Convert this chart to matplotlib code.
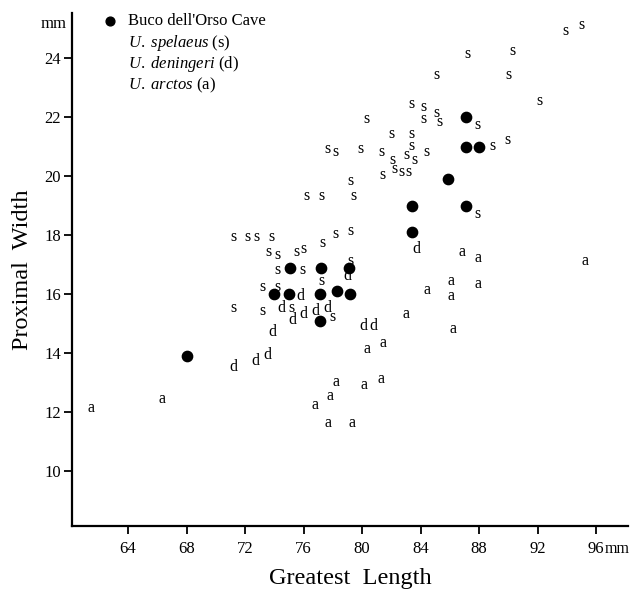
import matplotlib
matplotlib.use("Agg")
import matplotlib.pyplot as plt

plt.rcParams['font.family'] = ['Liberation Serif', 'DejaVu Serif']
plt.rcParams['mathtext.fontset'] = 'custom'
plt.rcParams['mathtext.rm'] = 'Liberation Serif'
plt.rcParams['mathtext.it'] = 'Liberation Serif:italic'

# Buco dell'Orso Cave (black dots)
cave_x = [68.0, 74.0, 75.1, 75.0, 77.2, 77.1, 77.1, 78.3, 79.2, 79.1,
          83.4, 83.4, 85.9, 87.1, 87.1, 88.0, 87.1]
cave_y = [13.9, 16.0, 16.9, 16.0, 16.9, 16.0, 15.1, 16.1, 16.0, 16.9,
          18.1, 19.0, 19.9, 22.0, 21.0, 21.0, 19.0]

# U. spelaeus (s)
spel_x = [93.9, 95.0, 87.2, 90.3, 85.1, 90.0, 92.1, 83.4, 84.2, 84.2,
          85.1, 85.3, 80.3, 87.9, 82.0, 83.4, 77.6, 78.2, 79.9, 81.3,
          83.4, 83.0, 83.6, 84.4, 82.1, 82.2, 82.7, 83.2, 81.4, 79.2,
          88.9, 89.9, 76.2, 77.2, 79.4, 87.9, 79.2, 78.2, 77.3, 76.0,
          75.5, 79.2, 75.9, 77.2, 78.0, 71.2, 72.2, 72.8, 73.8, 73.6,
          74.2, 74.2, 73.2, 74.2, 71.2, 73.2, 75.2]
spel_y = [25.0, 25.2, 24.2, 24.3, 23.5, 23.5, 22.6, 22.5, 22.4, 22.0,
          22.2, 21.9, 22.0, 21.8, 21.5, 21.5, 21.0, 20.9, 21.0, 20.9,
          21.1, 20.8, 20.6, 20.9, 20.6, 20.3, 20.2, 20.2, 20.1, 19.9,
          21.1, 21.3, 19.4, 19.4, 19.4, 18.8, 18.2, 18.1, 17.8, 17.6,
          17.5, 17.2, 16.9, 16.5, 15.3, 18.0, 18.0, 18.0, 18.0, 17.5,
          17.4, 16.9, 16.3, 16.3, 15.6, 15.5, 15.6]

# U. deningeri (d)
den_x = [75.8, 74.5, 75.2, 76.0, 76.8, 77.6, 73.9, 71.2, 72.7, 73.5,
         79.0, 80.1, 80.8, 83.7]
den_y = [16.0, 15.6, 15.2, 15.4, 15.5, 15.6, 14.8, 13.6, 13.8, 14.0,
         16.7, 15.0, 15.0, 17.6]

# U. arctos (a)
arc_x = [61.5, 66.3, 76.8, 77.8, 78.2, 80.1, 81.3, 77.7, 79.3, 80.3,
         81.4, 83.0, 84.4, 86.1, 86.1, 86.2, 86.8, 87.9, 87.9, 95.2]
arc_y = [12.2, 12.5, 12.3, 12.6, 13.1, 13.0, 13.2, 11.7, 11.7, 14.2,
         14.4, 15.4, 16.2, 16.5, 16.0, 14.9, 17.5, 17.3, 16.4, 17.2]

x_ticks = [64, 68, 72, 76, 80, 84, 88, 92, 96]
y_ticks = [10, 12, 14, 16, 18, 20, 22, 24]

fig = plt.figure(figsize=(6.31, 5.93), dpi=100)
ax = fig.add_axes([0.114, 0.113, 0.882, 0.865])

for xs, ys, letter in [(spel_x, spel_y, 's'), (den_x, den_y, 'd'), (arc_x, arc_y, 'a')]:
    for x, y in zip(xs, ys):
        ax.text(x, y, letter, fontsize=11.5, ha='center', va='center_baseline')

ax.scatter(cave_x, cave_y, s=55, color='black', zorder=3)

ax.set_xlim(60.17, 98.2)
ax.set_ylim(8.14, 25.53)
ax.set_xticks(x_ticks)
ax.set_yticks(y_ticks)
ax.tick_params(labelsize=12, width=1.3, length=6, pad=2, direction='out')
ax.tick_params(axis='x', pad=5)
for side in ['top', 'right']:
    ax.spines[side].set_visible(False)
for side in ['left', 'bottom']:
    ax.spines[side].set_linewidth(1.6)

# units
ax.text(-0.01, 0.978, 'mm', transform=ax.transAxes, fontsize=12, ha='right', va='center')
ax.text(96.55, -0.029, 'mm', transform=ax.get_xaxis_transform(), fontsize=11.5,
        ha='left', va='top')

ax.set_xlabel('Greatest  Length', fontsize=17.5, labelpad=8)
ax.set_ylabel('Proximal  Width', fontsize=17.5, labelpad=8)

# legend
ax.scatter([0.068], [0.984], s=40, color='black', transform=ax.transAxes, clip_on=False)
leg = ["Buco dell'Orso Cave",
       r"$\mathit{U.\ spelaeus}$ (s)",
       r"$\mathit{U.\ deningeri}$ (d)",
       r"$\mathit{U.\ arctos}$ (a)"]
for i, t in enumerate(leg):
    ax.text(0.101, 0.984 - i * 0.042, t, transform=ax.transAxes, fontsize=12, va='center')

fig.savefig('out.png', dpi=100, facecolor='white')
